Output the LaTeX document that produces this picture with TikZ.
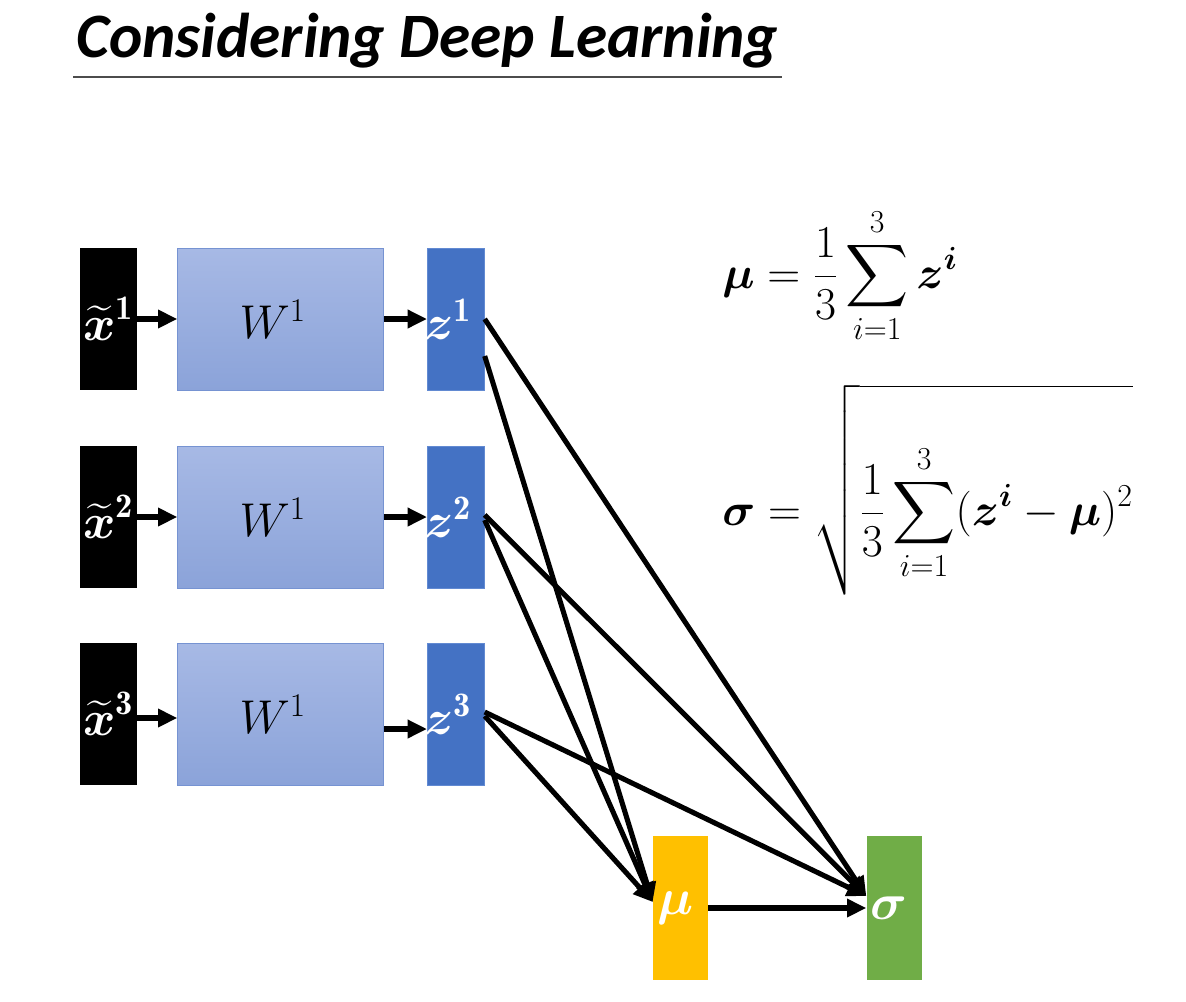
\RequirePackage{fix-cm}
\documentclass[tikz,border=0pt]{standalone}
\usepackage{amsmath}
\usepackage{fontspec}
\newfontfamily\titlefont{Carlito}
\usetikzlibrary{arrows.meta, positioning, calc}
\definecolor{wtop}{RGB}{167,185,229}
\definecolor{wbot}{RGB}{139,163,217}
\definecolor{wedge}{RGB}{118,147,210}
\definecolor{zblue}{RGB}{68,114,196}
\definecolor{zedge}{RGB}{98,138,210}
\definecolor{gold}{RGB}{255,192,0}
\definecolor{leaf}{RGB}{112,173,71}

\begin{document}
\begin{tikzpicture}[
        x=0.02cm, y=-0.02cm,
        node distance=0.8cm,
        inbox/.style={fill=black, minimum width=1.14cm, minimum height=2.84cm, inner sep=0pt, text=white, font=\fontsize{28}{32}\selectfont},
        wbox/.style={draw=wedge, top color=wtop, bottom color=wbot, minimum width=4.12cm, minimum height=2.84cm, inner sep=0pt, font=\fontsize{27}{32}\selectfont, execute at begin node={\kern-9pt}},
        zbox/.style={draw=zedge, fill=zblue, minimum width=1.14cm, minimum height=2.84cm, inner sep=0pt, text=white, font=\fontsize{28}{32}\selectfont, execute at begin node={\kern-9pt}},
        stat/.style={minimum width=1.1cm, minimum height=2.88cm, inner sep=0pt, text=white, font=\fontsize{29}{32}\selectfont, execute at begin node={\kern-6pt}},
        link/.style={line width=2.9pt, -{Triangle[length=11pt, width=10pt]}},
        eq/.style={anchor=base west, inner sep=0pt, font=\fontsize{26}{30}\selectfont},
      ]
      \useasboundingbox (0,0) rectangle (1186,1001);

      \node[anchor=base west, inner sep=0pt, font=\titlefont\bfseries\itshape\fontsize{36}{42}\selectfont] (title) at (76,57) {Considering Deep Learning};
      \draw[line width=1.2pt, black!70] ($(title.base west)+(-3,20)$) -- ($(title.base east)+(3,20)$);

      \node[inbox] (x1) at (108.5,319) {$\widetilde{\boldsymbol{x}}^{\mathbf{1}}$};
      \node[wbox, right=of x1] (w1) {$W^1$};
      \node[zbox, right=0.86cm of w1] (z1) {$\boldsymbol{z}^{\mathbf{1}}$};

      \node[inbox] (x2) at (108.5,517) {$\widetilde{\boldsymbol{x}}^{\mathbf{2}}$};
      \node[wbox, right=of x2] (w2) {$W^1$};
      \node[zbox, right=0.86cm of w2] (z2) {$\boldsymbol{z}^{\mathbf{2}}$};

      \node[inbox] (x3) at (108.5,714) {$\widetilde{\boldsymbol{x}}^{\mathbf{3}}$};
      \node[wbox, right=of x3] (w3) {$W^1$};
      \node[zbox, right=0.86cm of w3] (z3) {$\boldsymbol{z}^{\mathbf{3}}$};

      \node[stat, fill=gold] (mu) at (680.5,908) {$\boldsymbol{\mu}$};
      \node[stat, fill=leaf, right=3.16cm of mu] (sig) {$\boldsymbol{\sigma}$};

      \coordinate (muin) at ($(mu.west)+(0,-6)$);
      \coordinate (sigin) at ($(sig.west)+(0,-12)$);

      \draw[link] (x1) -- (w1);
      \draw[link] (w1) -- (z1);
      \draw[link] (x2) -- (w2);
      \draw[link] (w2) -- (z2);
      \draw[link] ($(x3.east)+(0,4)$) -- ($(w3.west)+(0,4)$);
      \draw[link] ($(w3.east)+(0,15)$) -- ($(z3.west)+(0,15)$);

      \draw[link] (z1.east) -- (sigin);
      \draw[link] ($(z1.east)+(0,37)$) -- (muin);
      \draw[link] ($(z2.east)+(0,-2)$) -- (sigin);
      \draw[link] ($(z2.east)+(0,3)$) -- (muin);
      \draw[link] ($(z3.east)+(0,-2)$) -- (sigin);
      \draw[link] ($(z3.east)+(0,2)$) -- (muin);
      \draw[link] (mu) -- (sig);

      \node[eq] (mean) at (722,288) {$\boldsymbol{\mu} = \displaystyle\frac{1}{3}\sum_{i=1}^{3}\boldsymbol{z}^{\boldsymbol{i}}$};
      \node[eq] (std) at (722,525) {$\boldsymbol{\sigma} = \sqrt{\rule[-40pt]{0pt}{117pt}\displaystyle\frac{1}{3}\sum_{i=1}^{3}(\boldsymbol{z}^{\boldsymbol{i}}-\boldsymbol{\mu})^2}$};
    \end{tikzpicture}
\end{document}
